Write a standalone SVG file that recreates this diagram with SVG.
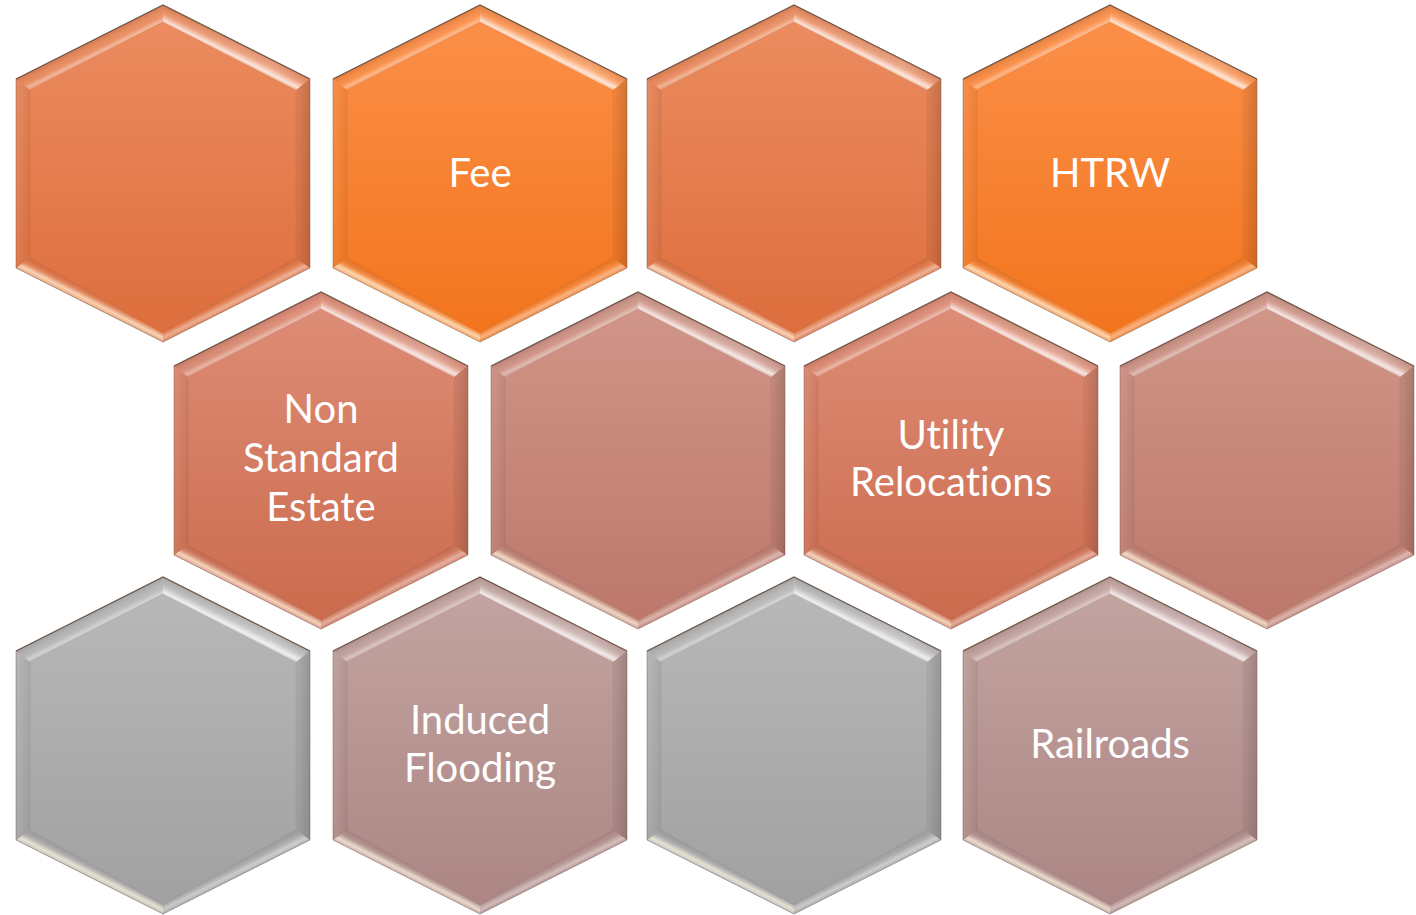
<svg xmlns="http://www.w3.org/2000/svg" xmlns:xlink="http://www.w3.org/1999/xlink" width="1416" height="915" viewBox="0 0 1416 915">
  <style>
    .label { font-family: Lato, "Open Sans", "Liberation Sans", sans-serif; font-size: 40px; fill: #ffffff; text-anchor: middle; font-variant-ligatures: none; }
    .rim-top { fill: none; stroke: #5e4434; stroke-opacity: 0.75; stroke-width: 1.3; stroke-linejoin: miter; }
    .rim { fill: none; stroke: #6a5448; stroke-opacity: 0.45; stroke-width: 1; }
  </style>
  <defs>
    <!-- face gradients, light at the top, darker at the bottom -->
    <linearGradient id="f-coral" x1="0" y1="0" x2="0" y2="1">
      <stop offset="0" stop-color="#ec8d61"/>
      <stop offset="1" stop-color="#dd6d3c"/>
    </linearGradient>
    <linearGradient id="f-orange" x1="0" y1="0" x2="0" y2="1">
      <stop offset="0" stop-color="#fc904a"/>
      <stop offset="1" stop-color="#f2741c"/>
    </linearGradient>
    <linearGradient id="f-salmon" x1="0" y1="0" x2="0" y2="1">
      <stop offset="0" stop-color="#de8e78"/>
      <stop offset="1" stop-color="#cb6a4c"/>
    </linearGradient>
    <linearGradient id="f-rose" x1="0" y1="0" x2="0" y2="1">
      <stop offset="0" stop-color="#d1978a"/>
      <stop offset="1" stop-color="#bb776a"/>
    </linearGradient>
    <linearGradient id="f-gray" x1="0" y1="0" x2="0" y2="1">
      <stop offset="0" stop-color="#b9b9b9"/>
      <stop offset="1" stop-color="#a0a0a0"/>
    </linearGradient>
    <linearGradient id="f-mauve" x1="0" y1="0" x2="0" y2="1">
      <stop offset="0" stop-color="#c4a5a2"/>
      <stop offset="1" stop-color="#ab8583"/>
    </linearGradient>

    <!-- bevel facet shading, in the hexagon's local space (top vertex at 0,0);
         each gradient runs along the facet's inward normal so its bands stay parallel to the edge -->
    <linearGradient id="b-tl" gradientUnits="userSpaceOnUse" x1="-73.5" y1="37" x2="-66.7" y2="50.6">
      <stop offset="0" stop-color="#000" stop-opacity="0.10"/>
      <stop offset="0.6" stop-color="#fff" stop-opacity="0.06"/>
      <stop offset="0.9" stop-color="#fff" stop-opacity="0.40"/>
      <stop offset="1" stop-color="#fff" stop-opacity="0.20"/>
    </linearGradient>
    <linearGradient id="b-tr" gradientUnits="userSpaceOnUse" x1="73.5" y1="37" x2="66.7" y2="50.6">
      <stop offset="0" stop-color="#000" stop-opacity="0.08"/>
      <stop offset="0.5" stop-color="#fff" stop-opacity="0.12"/>
      <stop offset="0.88" stop-color="#fff" stop-opacity="0.75"/>
      <stop offset="1" stop-color="#fff" stop-opacity="0.45"/>
    </linearGradient>
    <linearGradient id="b-tr-len" gradientUnits="userSpaceOnUse" x1="0" y1="0" x2="147" y2="0">
      <stop offset="0" stop-color="#fff" stop-opacity="0"/>
      <stop offset="0.75" stop-color="#fff" stop-opacity="0.35"/>
      <stop offset="1" stop-color="#fff" stop-opacity="0.12"/>
    </linearGradient>
    <linearGradient id="b-r" gradientUnits="userSpaceOnUse" x1="147" y1="0" x2="133" y2="0">
      <stop offset="0" stop-color="#000" stop-opacity="0.16"/>
      <stop offset="1" stop-color="#000" stop-opacity="0.04"/>
    </linearGradient>
    <linearGradient id="b-l" gradientUnits="userSpaceOnUse" x1="-147" y1="0" x2="-133" y2="0">
      <stop offset="0" stop-color="#fff" stop-opacity="0.05"/>
      <stop offset="1" stop-color="#000" stop-opacity="0.06"/>
    </linearGradient>
    <linearGradient id="b-br" gradientUnits="userSpaceOnUse" x1="73.5" y1="300" x2="66.75" y2="286.6">
      <stop offset="0" stop-color="#fff" stop-opacity="0.15"/>
      <stop offset="0.25" stop-color="#fff" stop-opacity="0.45"/>
      <stop offset="0.55" stop-color="#fff" stop-opacity="0.10"/>
      <stop offset="1" stop-color="#000" stop-opacity="0.06"/>
    </linearGradient>
    <linearGradient id="b-bl" gradientUnits="userSpaceOnUse" x1="-73.5" y1="300" x2="-66.75" y2="286.6">
      <stop offset="0" stop-color="#fff" stop-opacity="0.35"/>
      <stop offset="0.25" stop-color="#fff6d8" stop-opacity="0.75"/>
      <stop offset="0.55" stop-color="#fff" stop-opacity="0.15"/>
      <stop offset="1" stop-color="#000" stop-opacity="0.05"/>
    </linearGradient>

    <path id="hex" d="M0 0 L147 74 L147 263 L0 337 L-147 263 L-147 74 Z"/>

    <g id="bevel">
      <path d="M0 0 L-147 74 L-133 85 L0 17 Z" fill="url(#b-tl)"/>
      <path d="M0 0 L147 74 L133 85 L0 17 Z" fill="url(#b-tr)"/>
      <path d="M0 0 L147 74 L133 85 L0 17 Z" fill="url(#b-tr-len)" opacity="0.6"/>
      <path d="M147 74 L147 263 L133 253 L133 85 Z" fill="url(#b-r)"/>
      <path d="M-147 74 L-147 263 L-133 253 L-133 85 Z" fill="url(#b-l)"/>
      <path d="M147 263 L0 337 L0 328 L133 253 Z" fill="url(#b-br)"/>
      <path d="M-147 263 L0 337 L0 328 L-133 253 Z" fill="url(#b-bl)"/>
      <!-- thin inner seam of the bevel -->
      <path d="M-133 85 L0 17 L133 85 L133 253 L0 328 L-133 253 Z" fill="none" stroke="#000" stroke-opacity="0.05" stroke-width="1"/>
      <!-- rims -->
      <path d="M-147 263 L-147 74 L0 0 L147 74 L147 263 L0 337 Z" class="rim"/>
      <path d="M-147 74 L0 0 L147 74" class="rim-top"/>
    </g>
  </defs>

  <!-- row 1 -->
  <g id="node-r1c1" transform="translate(163 5)">
    <use xlink:href="#hex" fill="url(#f-coral)"/>
    <use xlink:href="#bevel"/>
  </g>
  <g id="node-fee" transform="translate(480 5)">
    <use xlink:href="#hex" fill="url(#f-orange)"/>
    <use xlink:href="#bevel"/>
    <text class="label" x="0" y="182">Fee</text>
  </g>
  <g id="node-r1c3" transform="translate(794 5)">
    <use xlink:href="#hex" fill="url(#f-coral)"/>
    <use xlink:href="#bevel"/>
  </g>
  <g id="node-htrw" transform="translate(1110 5)">
    <use xlink:href="#hex" fill="url(#f-orange)"/>
    <use xlink:href="#bevel"/>
    <text class="label" x="0" y="182">HTRW</text>
  </g>

  <!-- row 2 -->
  <g id="node-non-standard-estate" transform="translate(321 292)">
    <use xlink:href="#hex" fill="url(#f-salmon)"/>
    <use xlink:href="#bevel"/>
    <text class="label" x="0" y="131">Non</text>
    <text class="label" x="0" y="180">Standard</text>
    <text class="label" x="0" y="229">Estate</text>
  </g>
  <g id="node-r2c2" transform="translate(638 292)">
    <use xlink:href="#hex" fill="url(#f-rose)"/>
    <use xlink:href="#bevel"/>
  </g>
  <g id="node-utility-relocations" transform="translate(951 292)">
    <use xlink:href="#hex" fill="url(#f-salmon)"/>
    <use xlink:href="#bevel"/>
    <text class="label" x="0" y="157">Utility</text>
    <text class="label" x="0" y="204">Relocations</text>
  </g>
  <g id="node-r2c4" transform="translate(1267 292)">
    <use xlink:href="#hex" fill="url(#f-rose)"/>
    <use xlink:href="#bevel"/>
  </g>

  <!-- row 3 -->
  <g id="node-r3c1" transform="translate(163 577)">
    <use xlink:href="#hex" fill="url(#f-gray)"/>
    <use xlink:href="#bevel"/>
  </g>
  <g id="node-induced-flooding" transform="translate(480 577)">
    <use xlink:href="#hex" fill="url(#f-mauve)"/>
    <use xlink:href="#bevel"/>
    <text class="label" x="0" y="157">Induced</text>
    <text class="label" x="0" y="205">Flooding</text>
  </g>
  <g id="node-r3c3" transform="translate(794 577)">
    <use xlink:href="#hex" fill="url(#f-gray)"/>
    <use xlink:href="#bevel"/>
  </g>
  <g id="node-railroads" transform="translate(1110 577)">
    <use xlink:href="#hex" fill="url(#f-mauve)"/>
    <use xlink:href="#bevel"/>
    <text class="label" x="0" y="181">Railroads</text>
  </g>

  <!-- no connectors between the tiles -->
  <g id="connectors"/>
</svg>
